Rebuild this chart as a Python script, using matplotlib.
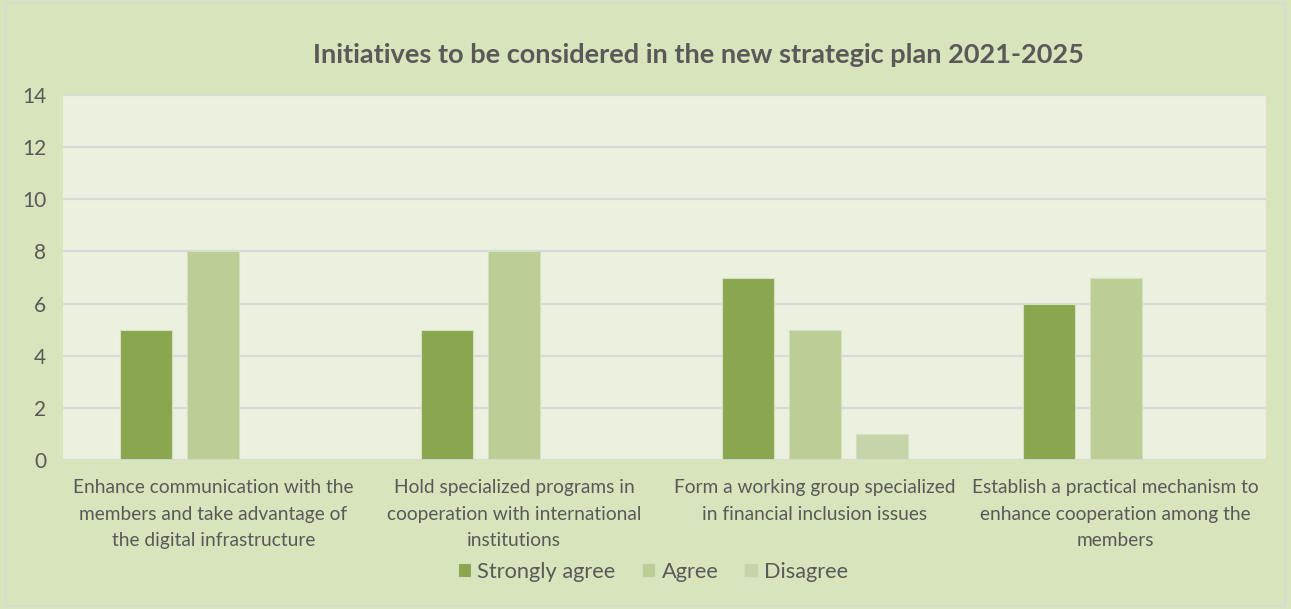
import matplotlib
matplotlib.use("Agg")
import matplotlib.pyplot as plt
import numpy as np
from matplotlib.patches import Rectangle

categories = [
    "Enhance communication with the\nmembers and take advantage of\nthe digital infrastructure",
    "Hold specialized programs in\ncooperation with international\ninstitutions",
    "Form a working group specialized\nin financial inclusion issues",
    "Establish a practical mechanism to\nenhance cooperation among the\nmembers",
]
series_names = ["Strongly agree", "Agree", "Disagree"]
strongly_agree = [5, 5, 7, 6]
agree = [8, 8, 5, 7]
disagree = [0, 0, 1, 0]
yticks = [0, 2, 4, 6, 8, 10, 12, 14]
title = "Initiatives to be considered in the new strategic plan 2021-2025"

colors = ["#8AA64E", "#BACE96", "#C6D5A9"]
fig_bg = "#D8E4BC"
ax_bg = "#EBF0DF"
text_c = "#595959"

plt.rcParams['font.family'] = ['Lato', 'DejaVu Sans']

W, H = 1291, 609
fig = plt.figure(figsize=(W / 100, H / 100), dpi=100)
fig.patch.set_facecolor(fig_bg)
fig.patches.append(Rectangle((6 / W, 3 / H), 1279 / W, 603 / H, transform=fig.transFigure,
                             facecolor="none", edgecolor="#D9D9D9", linewidth=1.2, zorder=5))

ax = fig.add_axes([63 / W, 1 - 460 / H, (1266 - 63) / W, (460 - 95) / H])
ax.set_facecolor(ax_bg)

x = np.arange(len(categories))
bw = 52 / 300.75
step = 67 / 300.75
for i, (vals, c) in enumerate(zip([strongly_agree, agree, disagree], colors)):
    ax.bar(x + (i - 1) * step, vals, width=bw, color=c, label=series_names[i], zorder=3,
           edgecolor="#D5E0C0", linewidth=0.8)

ax.set_xlim(-0.5, len(categories) - 0.5)
ax.set_ylim(0, 14)
ax.set_yticks(yticks)
ax.yaxis.grid(True, color="#D9D9D9", linewidth=1.6, zorder=0)
ax.set_axisbelow(True)
for s in ax.spines.values():
    s.set_visible(False)
ax.axhline(0, color="#D9D9D9", linewidth=2, zorder=4)
ax.tick_params(axis="both", length=0)
ax.tick_params(axis="y", labelsize=15, labelcolor=text_c, pad=12)
ax.set_xticks(x)
ax.set_xticklabels(categories, fontsize=13.8, color=text_c, linespacing=1.68)
ax.tick_params(axis="x", pad=14)

fig.text(698 / W, 1 - 55 / H, title, ha="center", va="center", fontsize=19.5,
         fontweight="bold", color=text_c)

leg = fig.legend(loc="center", bbox_to_anchor=(653 / W, 1 - 572 / H), ncol=3, frameon=False,
                 fontsize=15.7, labelcolor=text_c, handlelength=0.6, handleheight=0.6,
                 handletextpad=0.3, columnspacing=1.2)

fig.savefig("out.png", dpi=100, facecolor=fig.get_facecolor())
